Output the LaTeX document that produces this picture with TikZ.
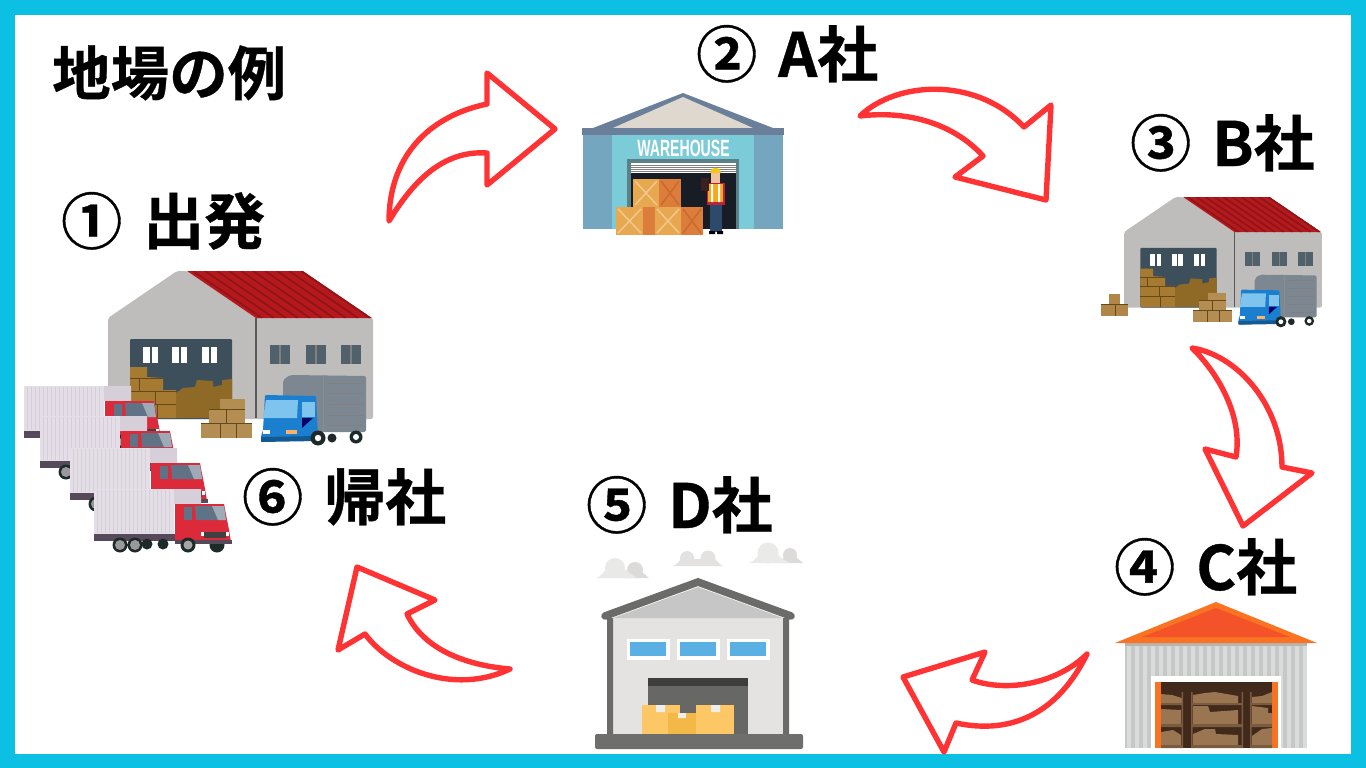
\documentclass[tikz,border=0pt]{standalone}
\usepackage{fontspec}
\setmainfont{Noto Sans CJK JP}[BoldFont={Noto Sans CJK JP Bold},BoldFeatures={FakeBold=0.6}]
\newfontfamily\wfont{Liberation Sans}
\definecolor{cyanb}{HTML}{0CC0E3}
\definecolor{arrowred}{HTML}{FF3333}
\definecolor{wallg}{HTML}{BFBDBB}
\definecolor{roofr}{HTML}{B5191D}
\definecolor{roofd}{HTML}{8E1517}
\definecolor{doorb}{HTML}{3E4F5C}
\definecolor{boxl}{HTML}{A67A30}
\definecolor{boxd}{HTML}{8F6A26}
\definecolor{crate}{HTML}{B48D52}
\definecolor{cabb}{HTML}{1B7FD0}
\definecolor{truckg}{HTML}{7C8791}
\definecolor{cabr}{HTML}{DC2A3A}
\definecolor{contl}{HTML}{E4DFE6}
\definecolor{contd}{HTML}{D6CFD9}
\definecolor{slate}{HTML}{6A7F9A}
\definecolor{glass}{HTML}{7FC4EE}
\definecolor{chass}{HTML}{55495A}
\definecolor{tyre}{HTML}{1E2A2A}
\definecolor{cabwin}{HTML}{5F7286}
\tikzset{
  x=1pt,y=-1pt,
  hx/.code={\definecolor{tmpc}{HTML}{#1}\pgfkeysalso{color=tmpc}},
  label/.style={font=\fontsize{61}{61}\selectfont\bfseries,inner sep=0pt,anchor=base west,text=black},
  titlelabel/.style={font=\fontsize{58.5}{59}\selectfont\bfseries,inner sep=0pt,anchor=base west,text=black},
  blockarrow/.style={draw=arrowred,fill=white,line width=5.4pt,line join=round},
  ln/.style={line width=0.8pt},
}
\newcommand{\gap}{\hspace{21pt}}
\newcommand{\redhouse}{%
  \fill[wallg,rounded corners=2pt] (108,419)--(108,318)--(177,271)--(187,271)--(256,318)--(373,318)--(373,419)--cycle;
  \begin{scope}
    \clip (187,271)--(303,271)--(372,318)--(256,318)--cycle;
    \fill[roofr] (180,265) rectangle (380,320);
    \foreach \d in {6,18,30,42,54,66,78,90,102,114}{\draw[roofd,line width=1.6pt] (187+\d,271)--(256+\d,318);}
  \end{scope}
  \draw[gray!70!black,line width=1.8pt] (256,318)--(256,418);
  \fill[doorb,rounded corners=1pt] (130,339) rectangle (232,419);
  \foreach \wx in {143,172,202}{
    \fill[white] (\wx,347) rectangle +(6.5,16);
    \fill[white] (\wx+8.5,347) rectangle +(6.5,16);
  }
  \foreach \wx in {270,306,341}{
    \fill[doorb!90!white] (\wx,345) rectangle +(20,19);
    \fill[gray] (\wx+9,345) rectangle +(2,19);
  }
  \fill[boxd] (176,393)--(183,388)--(195,387)--(197,380)--(213,381)--(213,387)--(222,385)--(222,380)--(232,379)--(232,418)--(176,418)--cycle;
  \fill[boxl] (130,367)--(147,367)--(147,377)--(163,378)--(163,390)--(176,390)--(176,418)--(130,418)--cycle;
  \draw[boxd!70!black,ln] (130,378)--(163,378) (130,391)--(176,391) (130,404)--(176,404) (139,378)--(139,391) (155,391)--(155,404) (157,404)--(157,418);
  \fill[crate] (201,423) rectangle (252,438);
  \fill[crate] (209,409) rectangle (245,423);
  \fill[crate] (220,399) rectangle (245,409);
  \draw[boxd!70!black,ln] (201,423)--(252,423) (209,409)--(245,409) (220,423)--(220,438) (236,423)--(236,438) (226,409)--(226,423);
  \fill[truckg,rounded corners=2pt] (283,432)--(283,380)--(290,375)--(366,376)--(366,432)--cycle;
  \draw[black!45,line width=1pt] (323,375)--(323,432);
  \foreach \ry in {383,393,404,415,425}{\draw[black!50,line width=1pt] (329,\ry)--(363,\ry);}
  \fill[tyre] (332,438) circle (4.5);
  \fill[tyre] (356,437) circle (6.5);
  \fill[white] (356,437) circle (3);
  \fill[cabb,rounded corners=1pt] (265,395)--(316,396)--(318,438)--(262,442)--(261,436)--(263,430)--cycle;
  \fill[cabb!70!black] (261,437)--(318,436)--(318,441)--(261,442)--cycle;
  \fill[glass] (266,400)--(298,400)--(297,418)--(263,418)--cycle;
  \fill[glass] (302,402)--(315,402)--(315,417)--(302,417)--cycle;
  \fill[blue!40!black] (302,418)--(313,418)--(302,428)--cycle;
  \fill[white] (263,430) rectangle (270,434);
  \fill[orange!60!white] (286,430) rectangle (297,434);
  \fill[tyre] (318,438) circle (7.5);
  \fill[white] (318,438) circle (3.2);
}
\newcommand{\redtruck}{%
  \fill[contd] (168,489)--(201,489)--(201,504)--(174,504)--cycle;
  \fill[chass] (94,534) rectangle (176,541);
  \fill[tyre] (147,544) circle (5.5) (163,544) circle (5.5);
  \fill[contl] (94,489) rectangle (174,534);
  \foreach \sx in {97,101,...,169}{\draw[contd,line width=.6pt] (\sx,490)--(\sx,533);}
  \fill[tyre] (120,545) circle (7.5) (135,545) circle (7.5) (217,545) circle (7.5);
  \fill[gray!80] (120,545) circle (5) (135,545) circle (5);
  \fill[cabr] (175,504)--(224,504)--(229,530)--(231,542)--(175,542)--cycle;
  \fill[chass] (175,540) rectangle (232,544);
  \fill[tyre] (188,545) circle (7.5);
  \fill[gray!70] (188,545) circle (4.5);
  \fill[cabwin] (195,506)--(224,506)--(226,520)--(196,520)--cycle;
  \fill[cabwin!60!white] (212,506)--(224,506)--(226,520)--(218,520)--cycle;
  \fill[cabwin] (184,507)--(192,507)--(192,520)--(184,520)--cycle;
  \fill[black!75] (204,532) rectangle (226,538);
  \fill[white] (201,532) rectangle (204,536);
  \fill[white] (226,532) rectangle (229,536);
}
\begin{document}
\begin{tikzpicture}
\useasboundingbox (0,0) rectangle (1366,768);
\fill[cyanb] (0,0) rectangle (1366,768);
\fill[white] (15,15) rectangle (1351,754);

% warehouse 1 (big)
\redhouse
% trucks
\begin{scope}[shift={(-70,-103)}]\redtruck\end{scope}
\begin{scope}[shift={(-54,-73)}]\redtruck\end{scope}
\begin{scope}[shift={(-24,-41)}]\redtruck\end{scope}
\redtruck

% warehouse 3 (small)
\begin{scope}[shift={(1124-.747*108,197-.747*271)},scale=.747]\redhouse\end{scope}
\fill[crate!70!boxl] (1101,304) rectangle (1128,316);
\fill[crate!70!boxl] (1109,294) rectangle (1120,304);
\draw[boxd!70!black,ln] (1101,304)--(1128,304) (1115,304)--(1115,316);

% warehouse A
\fill[slate] (683,93)--(773,128)--(593,128)--cycle;
\fill[hx=DED8CE] (683,97)--(753,128)--(613,128)--cycle;
\fill[hx=74A6BF] (583,135) rectangle (783,229);
\fill[hx=7CCBD9] (612,135) rectangle (754,229);
\fill[slate] (582,128) rectangle (784,135);
\fill[hx=5B8088] (627,159) rectangle (739,229);
\node[font=\wfont\bfseries\fontsize{23.5}{24}\selectfont,text=white,xscale=.6,inner sep=0pt] (wh) at (683.5,148) {WAREHOUSE};
\fill[hx=181C25] (631,163) rectangle (736,229);
\fill[white] (631,163) rectangle (736,173);
\foreach \sy in {165,167,169,171}{\draw[gray,line width=.5pt] (631,\sy)--(736,\sy);}
\fill[hx=E8A850] (633,179) rectangle (659,207);
\fill[hx=DD7D3C] (659,179) rectangle (681,207);
\fill[hx=DD7D3C] (643,207) rectangle (655,235);
\fill[hx=E8A850] (616,207) rectangle (643,235);
\fill[hx=E8A850] (655,207) rectangle (681,235);
\fill[hx=DD7D3C] (681,207) rectangle (703,235);
\draw[hx=F3C890,line width=1.5pt] (635,181)--(657,205) (657,181)--(635,205) (618,209)--(641,233) (641,209)--(618,233) (657,209)--(679,233) (679,209)--(657,233);
\draw[hx=C96A2E,line width=1.5pt] (661,181)--(679,205) (679,181)--(661,205) (683,209)--(701,233) (701,209)--(683,233);
% worker
\fill[hx=2D4A6C] (710,204) rectangle (722,232);
\fill[black] (709,231) rectangle (715,234) (717,231) rectangle (723,234);
\fill[hx=C2203A] (707,183) rectangle (725,205);
\fill[hx=EFC3A0] (711,172) rectangle (720,183);
\fill[hx=F7A81B] (708,184) rectangle (723,202);
\fill[white] (711,184) rectangle (713,202) (718,184) rectangle (720,202);
\fill[hx=F5C518] (710,173) arc[start angle=180,end angle=360,radius=5.5] --cycle;
\fill[hx=3A2020] (701,178) rectangle (709,191);

% warehouse C
\fill[hx=C5C8C6] (1125,643) rectangle (1307,748);
\foreach \sx in {1127,1135,...,1305}{\fill[hx=DADCDA] (\sx,646) rectangle +(4,102);}
\fill[hx=B5B5B3] (1125,643) rectangle (1307,646);
\fill[hx=F97322] (1115,643)--(1216,602)--(1317,643)--cycle;
\fill[hx=F45329] (1142,637)--(1216,608)--(1290,637)--cycle;
\fill[white] (1151,676) rectangle (1281,748);
\fill[hx=41291C] (1161,682) rectangle (1272,748);
\fill[hx=F97322] (1155,682) rectangle (1161,748);
\fill[hx=F97322] (1272,682) rectangle (1278,748);
\fill[hx=9A7552]
 (1161,703)--(1161,694)--(1172,695)--(1182,698)--(1182,703)--cycle
 (1193,703)--(1193,695)--(1205,693)--(1215,692)--(1238,696)--(1238,703)--cycle
 (1252,703)--(1252,697)--(1262,696)--(1272,692)--(1272,703)--cycle
 (1161,724)--(1161,709)--(1181,710)--(1181,724)--cycle
 (1193,724)--(1193,706)--(1208,706)--(1210,712)--(1238,710)--(1238,724)--cycle
 (1252,724)--(1252,706)--(1268,708)--(1268,713)--(1272,713)--(1272,724)--cycle
 (1161,745)--(1161,732)--(1173,730)--(1181,735)--(1181,745)--cycle
 (1193,745)--(1193,734)--(1205,729)--(1215,729)--(1216,734)--(1238,735)--(1238,745)--cycle
 (1252,745)--(1252,736)--(1262,729)--(1272,728)--(1272,745)--cycle;
\fill[hx=7B5B3E] (1161,703) rectangle (1183,705) (1191,703) rectangle (1243,705) (1250,703) rectangle (1272,705)
  (1161,724) rectangle (1183,727) (1191,724) rectangle (1243,727) (1250,724) rectangle (1272,727)
  (1161,745) rectangle (1183,748) (1191,745) rectangle (1243,748) (1250,745) rectangle (1272,748)
  (1181.5,692) rectangle (1183,748) (1191,692) rectangle (1192.5,748) (1241.5,692) rectangle (1243,748) (1250,692) rectangle (1251.5,748);

% clouds
\fill[hx=DCDBDA] (635,570) circle (8);
\fill[hx=DCDBDA] (625,578)--(629,572)--(642,572)--(649,578)--cycle;
\fill[hx=E9E9E8] (615,568) circle (10);
\fill[hx=E9E9E8] (596,578) .. controls (600,577) and (603,573) .. (606,570) -- (626,570) .. controls (630,573) and (634,576) .. (637,578) -- cycle;
\fill[hx=E3E2E1] (687,558) circle (7);
\fill[hx=E3E2E1] (708,558) circle (7.5);
\fill[hx=E3E2E1] (673,566) .. controls (676,565) and (679,562) .. (681,559) -- (715,559) .. controls (718,562) and (720,565) .. (723,566) -- cycle;
\fill[hx=DCDBDA] (790,555) circle (7);
\fill[hx=DCDBDA] (780,563)--(784,557)--(796,557)--(803,563)--cycle;
\fill[hx=EAEAE9] (768,553) circle (10.5);
\fill[hx=EAEAE9] (749,563) .. controls (753,562) and (756,558) .. (759,555) -- (778,555) .. controls (781,558) and (785,561) .. (790,563) -- cycle;

% warehouse D
\fill[hx=E4E3E2] (613,618) rectangle (783,734);
\fill[hx=C6C6C6] (613,618)--(698,587)--(783,618)--cycle;
\fill[hx=6B6B6A] (607,618) rectangle (613,734) (783,618) rectangle (789,734);
\draw[hx=6B6B6A,line width=7.6pt,line cap=round,line join=miter] (605,616)--(698,582)--(791,616);
\foreach \wx in {627,677,727}{
  \fill[white] (\wx,639) rectangle +(43,21);
  \fill[hx=5AB0E2] (\wx+3,642) rectangle +(36,14);
}
\fill[hx=676766] (648,678) rectangle (748,734);
\fill[hx=3D3D3D] (648,678) rectangle (748,686);
\fill[hx=FEC765] (642,705) rectangle (680,734);
\fill[hx=FEC765] (696,705) rectangle (734,734);
\fill[hx=F3B845] (668,713) rectangle (696,734);
\fill[hx=F0EEE8] (656,705) rectangle (665,712) (711,705) rectangle (720,712) (678,713) rectangle (686,718);
\fill[hx=6E6E6D,rounded corners=2pt] (595,734) rectangle (803,749);

% arrows
\draw[blockarrow] (389,221) .. controls (389,160) and (425,117) .. (487,104)
  -- (487,73) -- (555,129) -- (487,185) -- (487,153)
  .. controls (442,150) and (412,183) .. (389,221) -- cycle;
\draw[blockarrow] (860,116) .. controls (895,82) and (975,75) .. (1024,127)
  -- (1051,105) -- (1046,200) -- (955,177) -- (983,156)
  .. controls (955,125) and (910,110) .. (860,116) -- cycle;
\draw[blockarrow] (1192,348) .. controls (1237,355) and (1282,405) .. (1282,467)
  -- (1312,473) -- (1243,526) -- (1205,449) -- (1236,457)
  .. controls (1243,415) and (1217,372) .. (1192,348) -- cycle;
\draw[blockarrow] (1087,654) .. controls (1058,683) and (1008,693) .. (972,680)
  -- (985,652) -- (903,677) -- (944,752) -- (956,723)
  .. controls (1012,735) and (1058,713) .. (1087,654) -- cycle;
\draw[blockarrow] (510,669) .. controls (463,665) and (423,648) .. (407,614)
  -- (435,600) -- (357,567) -- (338,650) -- (365,634)
  .. controls (390,668) and (453,696) .. (510,669) -- cycle;

% labels
\node[titlelabel] (t0) at (52,95) {地場の例};
\node[label] (t1) at (61,244) {①\gap 出発};
\node[label] (t2) at (696,77) {②\gap A社};
\node[label] (t3) at (1130,166) {③\gap B社};
\node[label] (t4) at (1114,590) {④\gap C社};
\node[label] (t5) at (586,528) {⑤\gap D社};
\node[label] (t6) at (242,520) {⑥\gap 帰社};
\end{tikzpicture}
\end{document}
